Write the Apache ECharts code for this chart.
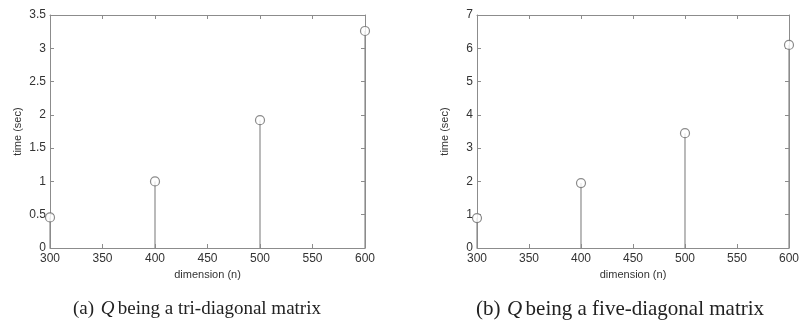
<!DOCTYPE html>
<html>
<head>
<meta charset="utf-8">
<style>
  html, body { margin: 0; padding: 0; background: #fff; }
  #chart { width: 802px; height: 335px; }
</style>
<script src="https://cdn.jsdelivr.net/npm/echarts@6/dist/echarts.min.js"></script>
</head>
<body>
<div id="chart"></div>
<script>
// Matrix dimension n and solve times (seconds)
const dimensions = [300, 400, 500, 600];
const timeTriDiagonal = [0.46, 1.00, 1.92, 3.26];
const timeFiveDiagonal = [0.90, 1.95, 3.45, 6.10];

const xTicks = { min: 300, max: 600, interval: 50 };
const yTicksTri = { min: 0, max: 3.5, interval: 0.5 };
const yTicksFive = { min: 0, max: 7, interval: 1 };

const captionTri = 'being a tri-diagonal matrix';
const captionFive = 'being a five-diagonal matrix';

const ink = '#8c8c8c';
const textColor = '#333333';
const sans = '"Liberation Sans", Arial, sans-serif';
const serif = '"Liberation Serif", "Times New Roman", serif';

const chart = echarts.init(document.getElementById('chart'), null, { renderer: 'canvas' });

function xAxes(gridIndex) {
  const common = {
    type: 'value', gridIndex,
    min: xTicks.min, max: xTicks.max, interval: xTicks.interval,
    axisLine: { show: true, onZero: false, lineStyle: { color: ink, width: 1 } },
    axisTick: { show: true, inside: true, length: 4, lineStyle: { color: ink } },
    splitLine: { show: false }
  };
  return [
    Object.assign({}, common, {
      position: 'bottom',
      name: 'dimension (n)', nameLocation: 'middle', nameGap: 21,
      nameTextStyle: { fontFamily: sans, fontSize: 11, color: textColor },
      axisLabel: { show: true, margin: 5, fontFamily: sans, fontSize: 12, color: textColor }
    }),
    Object.assign({}, common, { position: 'top', axisLabel: { show: false } })
  ];
}

function yAxes(gridIndex, ticks) {
  const common = {
    type: 'value', gridIndex,
    min: ticks.min, max: ticks.max, interval: ticks.interval,
    axisLine: { show: true, onZero: false, lineStyle: { color: ink, width: 1 } },
    axisTick: { show: true, inside: true, length: 4, lineStyle: { color: ink } },
    splitLine: { show: false }
  };
  return [
    Object.assign({}, common, {
      position: 'left',
      name: 'time (sec)', nameLocation: 'middle', nameGap: 27, nameRotate: 90,
      nameTextStyle: { fontFamily: sans, fontSize: 11, color: textColor },
      axisLabel: { show: true, margin: 4, fontFamily: sans, fontSize: 12, color: textColor }
    }),
    Object.assign({}, common, { position: 'right', axisLabel: { show: false } })
  ];
}

function stemSeries(axisIdx, values) {
  const data = dimensions.map((d, i) => [d, values[i]]);
  return [
    {
      type: 'custom',
      xAxisIndex: axisIdx, yAxisIndex: axisIdx,
      clip: false,
      data,
      renderItem(params, api) {
        const p0 = api.coord([api.value(0), 0]);
        const p1 = api.coord([api.value(0), api.value(1)]);
        return {
          type: 'line',
          shape: { x1: p0[0], y1: p0[1], x2: p1[0], y2: p1[1] },
          style: { stroke: ink, lineWidth: 1.2 }
        };
      },
      z: 2
    },
    {
      type: 'scatter',
      xAxisIndex: axisIdx, yAxisIndex: axisIdx,
      clip: false,
      data,
      symbol: 'circle',
      symbolSize: 9,
      itemStyle: { color: '#ffffff', borderColor: '#6e6e6e', borderWidth: 1.2 },
      z: 3
    }
  ];
}

function caption(cx, label, rest, size) {
  return {
    type: 'text', x: cx, y: 309,
    style: {
      text: '{n|' + label + '}  {q|Q} {n|' + rest + '}',
      rich: {
        n: { fontFamily: serif, fontSize: size, fill: '#222' },
        q: { fontFamily: serif, fontSize: size, fontStyle: 'italic', fill: '#222' }
      },
      align: 'center', verticalAlign: 'middle'
    }
  };
}

chart.setOption({
  animation: false,
  backgroundColor: '#ffffff',
  grid: [
    { left: 50, top: 15, width: 315, height: 233, containLabel: false },
    { left: 477, top: 15, width: 314, height: 233, containLabel: false }
  ],
  xAxis: [...xAxes(0), ...xAxes(1)],
  yAxis: [...yAxes(0, yTicksTri), ...yAxes(1, yTicksFive)],
  series: [...stemSeries(0, timeTriDiagonal), ...stemSeries(2, timeFiveDiagonal)],
  graphic: [
    caption(197, '(a)', captionTri, 19),
    caption(620, '(b)', captionFive, 21)
  ]
});
</script>
</body>
</html>
